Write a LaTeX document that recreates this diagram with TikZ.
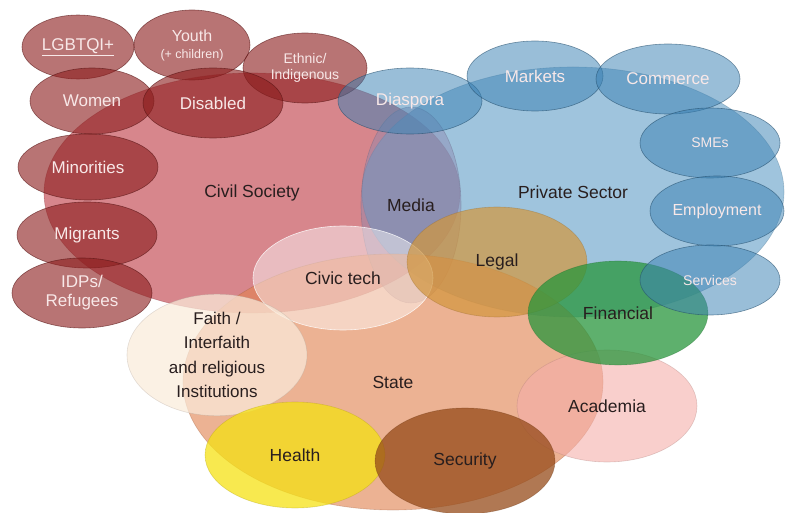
\documentclass[tikz,border=0pt]{standalone}
\usepackage{fontspec}
\setmainfont{Liberation Sans}
\usetikzlibrary{shapes.geometric}

\definecolor{civilred}{RGB}{190,60,70}
\definecolor{groupred}{RGB}{140,30,30}
\definecolor{privblue}{RGB}{100,160,200}
\definecolor{groupblue}{RGB}{60,130,180}
\definecolor{statetan}{RGB}{225,130,80}
\definecolor{legalgold}{RGB}{210,150,60}
\definecolor{fingreen}{RGB}{40,150,60}
\definecolor{acadpink}{RGB}{245,175,170}
\definecolor{healthyel}{RGB}{245,225,20}
\definecolor{secbrown}{RGB}{150,75,25}
\definecolor{mediagrey}{RGB}{140,135,175}
\definecolor{faithcream}{RGB}{250,235,218}
\definecolor{darktext}{RGB}{40,30,30}
\definecolor{lighttext}{RGB}{248,232,232}

\tikzset{
  blob/.style={ellipse, inner sep=0pt, align=center, text=darktext,
    font=\fontsize{17.5}{20}\selectfont, line width=0.6pt},
  sector/.style={blob, fill=#1, fill opacity=0.62, text opacity=1,
    draw=#1!70!black, draw opacity=0.35},
  group/.style={blob, fill=#1, fill opacity=0.62, text opacity=1,
    draw=#1!60!black, draw opacity=0.6, text=lighttext,
    font=\fontsize{17}{19}\selectfont},
  smalltext/.style={font=\fontsize{14}{16}\selectfont},
}

\begin{document}
\begin{tikzpicture}[x=1pt, y=-1pt]
	\useasboundingbox (0,0) rectangle (785,513);
	
	\node[sector=civilred, minimum width=416, minimum height=240] (civil) at (252,193) {Civil Society};
	\node[sector=privblue, minimum width=422, minimum height=250] (private) at (573,192) {Private Sector};
	\node[sector=mediagrey, fill opacity=0.45, minimum width=100, minimum height=196] (media) at (411,205) {Media};
	\node[sector=statetan, minimum width=420, minimum height=256] (state) at (393,382) {State};
	\node[sector=white, fill opacity=0.45, draw=white, draw opacity=0.8, minimum width=180, minimum height=104] (civic) at (343,278) {Civic tech};
	\node[sector=legalgold, fill opacity=0.7, minimum width=180, minimum height=110] (legal) at (497,262) {Legal};
	\node[sector=faithcream, fill opacity=0.72, minimum width=180, minimum height=106, font=\fontsize{17}{24.5}\selectfont] (faith) at (217,355) {Faith /\\Interfaith\\and religious\\Institutions};
	\node[sector=acadpink, fill opacity=0.6, minimum width=180, minimum height=112] (academia) at (607,406) {Academia};
	\node[sector=fingreen, fill opacity=0.75, minimum width=180, minimum height=104] (financial) at (618,313) {Financial};
	\node[sector=healthyel, fill opacity=0.75, minimum width=180, minimum height=106] (health) at (295,455) {Health};
	\node[sector=secbrown, fill opacity=0.75, minimum width=180, minimum height=106] (security) at (465,461) {Security};
	
	\node[group=groupred, minimum width=112, minimum height=64] (lgbtqi) at (78,47) {\underline{LGBTQI+}};
	\node[group=groupred, minimum width=116, minimum height=70, font=\fontsize{16}{18}\selectfont] (youth) at (192,45) {Youth\\[-1pt]{\fontsize{12.5}{14}\selectfont(+ children)}};
	\node[group=groupred, smalltext, minimum width=124, minimum height=70] (ethnic) at (305,68) {Ethnic/\\Indigenous};
	\node[group=groupred, minimum width=124, minimum height=66] (women) at (92,101) {Women};
	\node[group=groupred, minimum width=140, minimum height=70] (disabled) at (213,103) {Disabled};
	\node[group=groupred, minimum width=140, minimum height=66] (minorities) at (88,167) {Minorities};
	\node[group=groupred, minimum width=140, minimum height=66] (migrants) at (87,235) {Migrants};
	\node[group=groupred, minimum width=140, minimum height=70] (idps) at (82,293) {IDPs/\\Refugees};
	
	\node[group=groupblue, fill opacity=0.52, minimum width=144, minimum height=66] (diaspora) at (410,101) {Diaspora};
	\node[group=groupblue, fill opacity=0.52, minimum width=136, minimum height=70] (markets) at (535,76) {Markets};
	\node[group=groupblue, fill opacity=0.52, minimum width=144, minimum height=70] (commerce) at (668,79) {Commerce};
	\node[group=groupblue, fill opacity=0.52, smalltext, minimum width=140, minimum height=70] (smes) at (710,143) {SMEs};
	\node[group=groupblue, fill opacity=0.52, font=\fontsize{16}{18}\selectfont, minimum width=134, minimum height=70] (employment) at (717,211) {Employment};
	\node[group=groupblue, fill opacity=0.52, smalltext, minimum width=140, minimum height=70] (services) at (710,280) {Services};
\end{tikzpicture}
\end{document}
